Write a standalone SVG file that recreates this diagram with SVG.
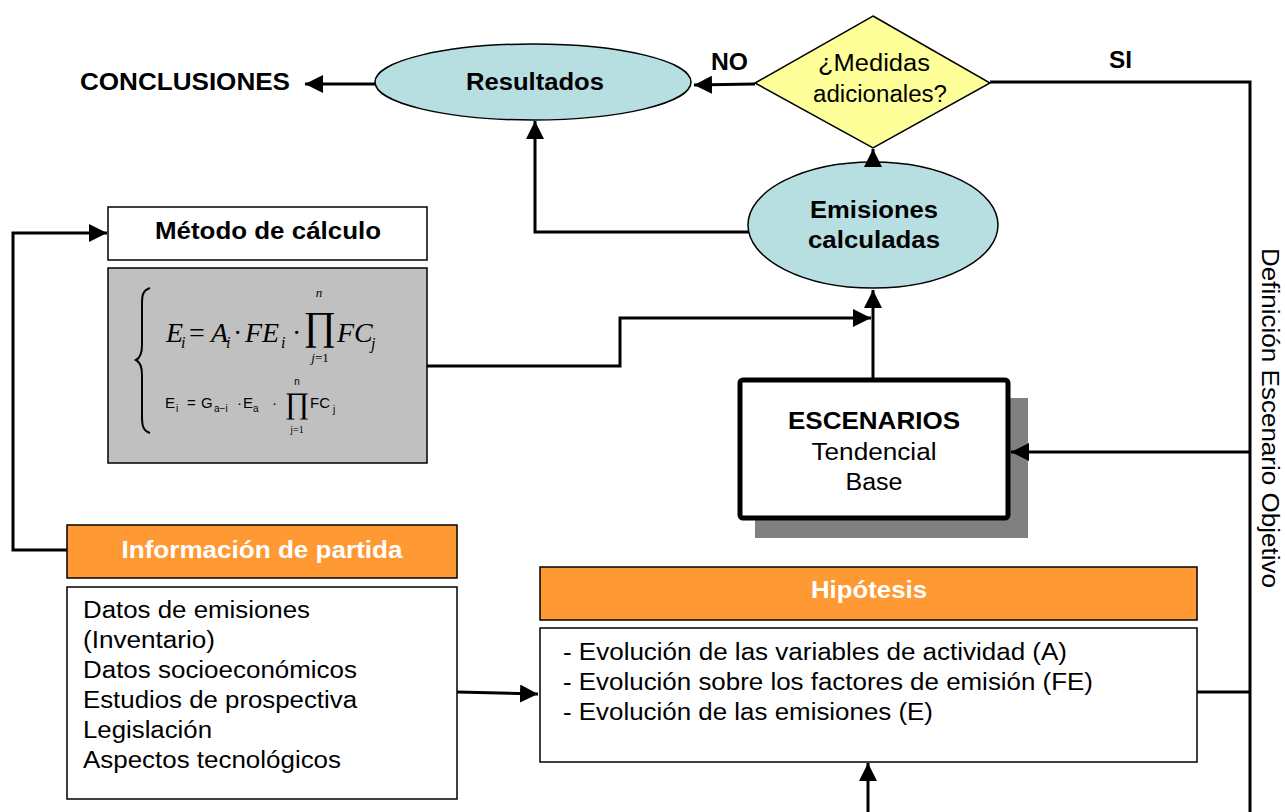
<svg xmlns="http://www.w3.org/2000/svg" width="1285" height="812" viewBox="0 0 1285 812">
<defs>
<marker id="ah" viewBox="0 0 10 10" refX="10" refY="5" markerWidth="6" markerHeight="6" orient="auto" markerUnits="strokeWidth"><path d="M0,0 L10,5 L0,10 z" fill="#000"/></marker>
<style>
.t{font-family:"Liberation Sans",Arial,sans-serif;font-size:23px;fill:#000}
.b{font-weight:bold}
.w{fill:#fff}
.c{stroke:#000;stroke-width:3;fill:none}
.ca{stroke:#000;stroke-width:3;fill:none;marker-end:url(#ah)}
.box{fill:#fff;stroke:#000;stroke-width:1.5}
.hdr{fill:#FF9933;stroke:#000;stroke-width:1.5}
.ell{fill:#B7DEE0;stroke:#000;stroke-width:1.5}
.s{font-family:"Liberation Serif","Times New Roman",serif;font-style:italic;fill:#000}
.n{font-style:normal}
.f{font-family:"Liberation Sans",Arial,sans-serif;fill:#000}
</style>
</defs>
<rect width="1285" height="812" fill="#fff"/>

<g id="conclusiones">
<text class="t b" x="80" y="90" textLength="210" lengthAdjust="spacingAndGlyphs">CONCLUSIONES</text>
</g>

<g id="resultados">
<ellipse class="ell" cx="533" cy="82" rx="158" ry="38"/>
<text class="t b" x="535" y="90" text-anchor="middle" textLength="138" lengthAdjust="spacingAndGlyphs">Resultados</text>
</g>

<g id="decision">
<polygon points="873,16 990,83 873,148 755,83" fill="#FFFF99" stroke="#000" stroke-width="1.5"/>
<text class="t" x="874" y="71" text-anchor="middle" textLength="112" lengthAdjust="spacingAndGlyphs">¿Medidas</text>
<text class="t" x="880" y="102" text-anchor="middle" textLength="134" lengthAdjust="spacingAndGlyphs">adicionales?</text>
</g>

<g id="labels">
<text class="t b" x="711" y="70" textLength="37" lengthAdjust="spacingAndGlyphs">NO</text>
<text class="t b" x="1109" y="68" textLength="23" lengthAdjust="spacingAndGlyphs">SI</text>
<text class="t" transform="translate(1262,418) rotate(90)" text-anchor="middle" textLength="340" lengthAdjust="spacingAndGlyphs">Definición Escenario Objetivo</text>
</g>

<g id="emisiones">
<ellipse class="ell" cx="873" cy="225" rx="125" ry="63"/>
<text class="t b" x="874" y="218" text-anchor="middle" textLength="128" lengthAdjust="spacingAndGlyphs">Emisiones</text>
<text class="t b" x="874" y="248" text-anchor="middle" textLength="132" lengthAdjust="spacingAndGlyphs">calculadas</text>
</g>

<g id="metodo">
<rect class="box" x="108" y="207" width="319" height="53"/>
<text class="t b" x="268" y="239" text-anchor="middle" textLength="226" lengthAdjust="spacingAndGlyphs">Método de cálculo</text>
</g>

<g id="formulas">
<rect x="108" y="268" width="319" height="195" fill="#C0C0C0" stroke="#000" stroke-width="1.5"/>
<path d="M150,288 C141,291 142,298 142,310 L142,345 C142,354 140,358 136,360 C140,362 142,366 142,375 L142,410 C142,422 141,430 150,433" fill="none" stroke="#000" stroke-width="2"/>
<text class="s" font-size="28" x="166" y="342">E</text>
<text class="s" font-size="16" x="181" y="348">i</text>
<text class="s n" font-size="28" x="189" y="342">=</text>
<text class="s" font-size="28" x="211" y="342">A</text>
<text class="s" font-size="16" x="226" y="348">i</text>
<text class="s n" font-size="28" x="233" y="342">·</text>
<text class="s" font-size="28" x="245" y="342">FE</text>
<text class="s" font-size="16" x="281" y="348">i</text>
<text class="s n" font-size="28" x="292" y="342">·</text>
<text class="s n" font-size="40" x="320" y="339" text-anchor="middle">∏</text>
<text class="s" font-size="13" x="319" y="297" text-anchor="middle">n</text>
<text class="s" font-size="13" x="320" y="362" text-anchor="middle">j<tspan class="n">=1</tspan></text>
<text class="s" font-size="28" x="337" y="342">FC</text>
<text class="s" font-size="16" x="371" y="349">j</text>

<text class="f" font-size="15" x="165" y="408">E</text>
<text class="f" font-size="10" x="176" y="412">i</text>
<text class="f" font-size="15" x="187" y="408">=</text>
<text class="f" font-size="15" x="201" y="408">G</text>
<text class="f" font-size="10" x="214" y="412">a−i</text>
<text class="f" font-size="15" x="237" y="408">·</text>
<text class="f" font-size="15" x="243" y="408">E</text>
<text class="f" font-size="10" x="253" y="412">a</text>
<text class="f" font-size="15" x="272" y="408">·</text>
<text class="s n" font-size="30" x="297" y="413" text-anchor="middle">∏</text>
<text class="f" font-size="10" x="297" y="385" text-anchor="middle">n</text>
<text class="s n" font-size="10" x="297" y="433" text-anchor="middle">j=1</text>
<text class="f" font-size="15" x="310" y="408">FC</text>
<text class="f" font-size="10" x="333" y="413">j</text>
</g>

<g id="escenarios">
<rect x="755" y="398" width="273" height="140" fill="#808080"/>
<rect x="740" y="380" width="268" height="138" rx="3" fill="#fff" stroke="#000" stroke-width="5"/>
<text class="t b" x="874" y="429" text-anchor="middle" textLength="172" lengthAdjust="spacingAndGlyphs">ESCENARIOS</text>
<text class="t" x="874" y="460" text-anchor="middle" textLength="125" lengthAdjust="spacingAndGlyphs">Tendencial</text>
<text class="t" x="874" y="490" text-anchor="middle" textLength="57" lengthAdjust="spacingAndGlyphs">Base</text>
</g>

<g id="informacion">
<rect class="hdr" x="67" y="525" width="390" height="53"/>
<text class="t b w" x="262" y="558" text-anchor="middle" textLength="281" lengthAdjust="spacingAndGlyphs">Información de partida</text>
</g>

<g id="datos">
<rect class="box" x="67" y="587" width="390" height="212"/>
<text class="t" x="83" y="618" textLength="227" lengthAdjust="spacingAndGlyphs">Datos de emisiones</text>
<text class="t" x="83" y="648" textLength="132" lengthAdjust="spacingAndGlyphs">(Inventario)</text>
<text class="t" x="83" y="678" textLength="274" lengthAdjust="spacingAndGlyphs">Datos socioeconómicos</text>
<text class="t" x="83" y="708" textLength="274" lengthAdjust="spacingAndGlyphs">Estudios de prospectiva</text>
<text class="t" x="83" y="738" textLength="129" lengthAdjust="spacingAndGlyphs">Legislación</text>
<text class="t" x="83" y="768" textLength="258" lengthAdjust="spacingAndGlyphs">Aspectos tecnológicos</text>
</g>

<g id="hipotesis-header">
<rect class="hdr" x="540" y="567" width="657" height="53"/>
<text class="t b w" x="869" y="598" text-anchor="middle" textLength="116" lengthAdjust="spacingAndGlyphs">Hipótesis</text>
</g>

<g id="hipotesis">
<rect class="box" x="540" y="628" width="657" height="134"/>
<text class="t" x="563" y="660" textLength="504" lengthAdjust="spacingAndGlyphs">- Evolución de las variables de actividad (A)</text>
<text class="t" x="563" y="690" textLength="530" lengthAdjust="spacingAndGlyphs">- Evolución sobre los factores de emisión (FE)</text>
<text class="t" x="563" y="720" textLength="370" lengthAdjust="spacingAndGlyphs">- Evolución de las emisiones (E)</text>
</g>

<g id="connectors">
<path class="ca" d="M375,84 L305,84"/>
<path class="ca" d="M755,84 L694,85"/>
<path class="c" d="M990,82 L1250,82 L1250,812"/>
<path class="ca" d="M873,162 L873,149"/>
<path class="ca" d="M749,232 L535,232 L535,121"/>
<path class="ca" d="M427,366 L620,366 L620,318 L871,318"/>
<path class="ca" d="M873,378 L873,290"/>
<path class="ca" d="M1250,452 L1011,452"/>
<path class="ca" d="M67,550 L13,550 L13,233 L107,233"/>
<path class="ca" d="M457,692 L538,694"/>
<path class="c" d="M1197,692 L1250,692"/>
<path class="ca" d="M868,812 L868,763"/>
</g>
</svg>
